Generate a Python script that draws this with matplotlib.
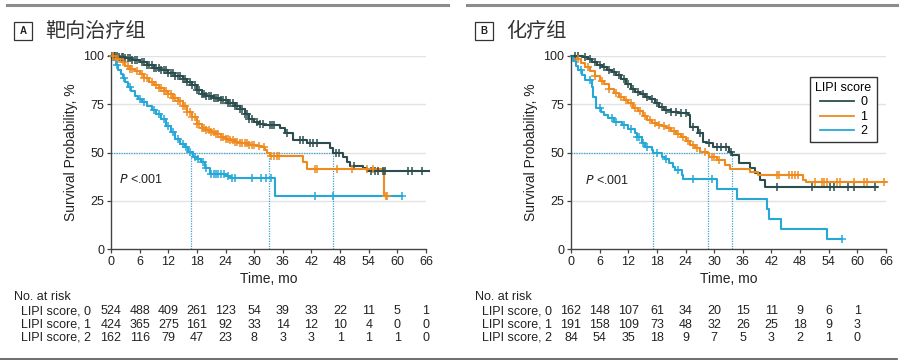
import matplotlib
matplotlib.use('Agg')
import numpy as np
import matplotlib.pyplot as plt
import matplotlib.transforms as mtransforms
from matplotlib import font_manager
from matplotlib.lines import Line2D
from matplotlib.patches import Rectangle

# fonts: narrow latin font for numbers/labels, CJK font for the titles
names = {f.name for f in font_manager.fontManager.ttflist}
if 'Liberation Sans Narrow' in names:
    latin = ['Liberation Sans Narrow', 'DejaVu Sans']
else:
    latin = ['Liberation Sans', 'DejaVu Sans']
plt.rcParams['font.family'] = latin
cjk = ['Noto Sans CJK SC', 'DejaVu Sans']

# ---------------------------------------------------------------
# DATA
# ---------------------------------------------------------------
titles = ['靶向治疗组', '化疗组']
panel_letters = ['A', 'B']
group_labels = ['0', '1', '2']
xticks = list(range(0, 67, 6))
yticks = [0, 25, 50, 75, 100]

# panel A, LIPI 0
a0_t = [0, 1.5, 3, 4.5, 6, 7.5, 9, 10.5, 12, 13.5, 15, 16, 17, 18, 19, 20, 21.5, 23, 24.5, 26, 27, 28, 29, 30, 31, 32,
        35.5, 36.4, 38.2, 41, 45.9, 46.6, 48.7, 49.4, 50, 52.8, 53.6]
a0_s = [100, 99.5, 99, 98, 97, 95.5, 94, 92.5, 91, 89.5, 88, 86.5, 85, 82.5, 80.5, 79.5, 78.5, 77, 75.5, 74, 72.5, 70, 67.5, 66, 65, 64.3,
        62.5, 60, 56.5, 55.2, 52.2, 49.7, 47.9, 45.3, 43.1, 42.2, 40.3]
a0_end = 66.6
a0_cens = [0.3, 0.6, 0.9, 1.2, 1.6, 2.2, 2.6, 3, 3.5, 4, 4.5, 5, 5.5, 6.5, 7, 7.5, 8, 8.5, 9, 9.5, 10, 10.5, 11, 11.5, 12,
           12.5, 13, 13.5, 14, 14.5, 15, 15.5, 16, 16.5, 17, 17.5, 18, 18.5, 19, 19.5, 20, 20.5, 21, 21.5, 22, 22.5, 23,
           23.5, 24, 24.5, 25, 25.5, 26, 26.5, 27, 27.5, 28, 28.5, 29, 29.5, 30.5, 31.2, 31.9, 33.3, 33.7, 34.1, 36.8,
           39.5, 40.2, 41.8, 42.4, 43.2, 47.2, 47.8, 51, 54.5, 55.3, 56, 57, 57.5, 62.3, 63, 65.2]

# panel A, LIPI 1
a1_t = [0, 1, 2, 3, 4, 5, 6, 7, 8, 9, 10, 11, 12, 13, 14, 15, 16, 17, 18, 19, 20, 21, 22, 23, 24, 25, 26, 27, 29, 30.5,
        31.5, 32.2, 32.7, 33.3, 40.3, 41, 57.2]
a1_s = [100, 98.5, 97, 95, 93.5, 92, 90.5, 88.5, 86.5, 85, 83.5, 82, 80.5, 78.5, 76.5, 74, 71, 68.5, 65, 63, 61.5, 60.5,
        59.5, 58.3, 57.3, 56.3, 55.5, 55, 54, 53.5, 53, 51.5, 50, 48.5, 45.3, 41.4, 27.4]
a1_end = 58.3
a1_cens = [0.5, 1, 1.5, 2.5, 3.5, 4, 4.5, 5.5, 6.5, 7, 7.5, 8.5, 9.5, 10, 10.5, 11, 11.5, 12, 12.5, 13, 13.5, 14, 14.5,
           15, 15.5, 16, 16.5, 17, 17.5, 18, 18.5, 19, 19.5, 20, 20.5, 21, 21.5, 22, 22.5, 23, 23.5, 24, 24.5, 25, 25.5,
           26, 26.5, 27, 27.5, 28, 28.5, 29, 29.5, 30, 31, 32, 33.6, 34.1, 34.7, 35.2, 42.7, 43.1, 47.3, 50.4, 53.6, 55,
           57.6, 57.9]

# panel A, LIPI 2
a2_t = [0, 0.5, 1, 1.5, 2, 2.5, 3, 3.6, 4.2, 5, 5.7, 6.5, 7.5, 8.5, 9.5, 10.5, 11.5, 12.5, 13.4, 14.5, 15.5, 16.2, 17.2,
        18, 18.9, 19.7, 20.7, 24.2, 25, 34.4]
a2_s = [100, 98, 95.5, 93, 90.5, 88.5, 86.5, 84, 82, 79.5, 77.5, 76, 74, 72, 70, 67.5, 64, 60.5, 57, 54.5, 53, 50.5, 48,
        46.5, 45, 42, 38.8, 37.8, 36.7, 27.6]
a2_end = 60.9
a2_cens = [1.2, 2.8, 4, 6, 7, 9, 10, 11, 12, 13, 14, 15, 15.8, 16.5, 17.5, 18.3, 19.2, 20, 21, 21.5, 22, 22.5, 23, 23.7,
           24.5, 25.3, 26, 29.6, 31.5, 32.5, 33.5, 42.7, 46.6, 60.9]

# panel B, LIPI 0
b0_t = [0, 2.5, 3.5, 4.5, 5.5, 6.5, 7.5, 8.5, 9.5, 10.5, 11.5, 12.5, 13.5, 14.5, 15.5, 16.5, 17.5, 18.5, 19.5, 21, 22.5,
        24.6, 24.9, 26.7, 27.7, 28.4, 29.8, 33.2, 33.7, 35.1, 37.5, 38.6, 39.6, 40.7]
b0_s = [100, 99.5, 98.5, 97, 95.5, 94.5, 93, 91.5, 90, 88, 85.5, 83, 81.5, 80.5, 79, 77.5, 75.5, 73.5, 72, 71, 70.4,
        69.5, 63.4, 60, 55.7, 54.8, 53.1, 50.5, 48.8, 44.8, 41.9, 39.3, 35.8, 32.4]
b0_end = 64.1
b0_cens = [0.8, 1.5, 3, 4, 5, 6, 7, 8, 9, 10, 11, 12, 13, 14, 15, 16, 17, 18, 19, 20, 21, 22, 23, 24, 25.5, 27, 29, 30.5,
           31.5, 32.5, 33.5, 43.1, 50.4, 54.3, 55, 58.1, 59.2, 63.7]

# panel B, LIPI 1
b1_t = [0, 1, 2, 3, 4, 5, 6, 7, 8, 9, 10, 11, 12, 13, 14, 15, 16, 17, 18, 19, 20, 21, 22, 23, 24, 25, 26, 27, 28.5, 29,
        30.5, 32.2, 33.3, 37.5, 39.2, 48.6, 49.3]
b1_s = [100, 98.5, 96.5, 94.5, 92, 89.5, 87, 85.5, 83, 81, 79, 77, 75.5, 73, 71.5, 69, 67, 65.5, 64.5, 63.8, 62.5, 61,
        59.5, 58.2, 56, 54, 52.5, 50.5, 49.7, 47.9, 46.2, 43.6, 41.4, 40.1, 38.4, 35.8, 34.8]
b1_end = 66.1
b1_cens = [1.5, 3.5, 5, 6.5, 8, 9.5, 10.5, 11.5, 12.5, 13.5, 14.5, 15.5, 16.5, 17.5, 18.5, 19.5, 20.5, 21.5, 22.5, 23.5,
           24.5, 25.5, 26.5, 28, 29.5, 30, 31, 43.1, 43.5, 45.6, 46.3, 47, 47.5, 51.2, 52.6, 53.1, 53.6, 55.7, 56.3,
           59.2, 61.3, 62, 65.5]

# panel B, LIPI 2
b2_t = [0, 0.5, 1, 1.5, 2.2, 3, 4.3, 4.7, 5.3, 6.3, 7, 7.8, 9, 10.6, 12, 13.4, 13.8, 14.8, 15.5, 16.9, 17.2, 19, 19.6,
        20.5, 21.4, 21.8, 23.2, 23.5, 30.5, 34.7, 41, 41.5, 44.1, 53.6]
b2_s = [100, 97.5, 95, 92.7, 90, 87.5, 84, 79, 73, 71, 69.5, 67.8, 66, 64.3, 62, 60, 58.2, 54.8, 53, 51.4, 50, 47.9,
        46.5, 44.5, 42.7, 41, 38.4, 36.2, 31, 26, 20.7, 15.7, 10.3, 5.3]
b2_end = 56.7
b2_cens = [2, 4, 6, 8.5, 9.5, 11, 12.5, 13.8, 14.2, 15, 16, 18, 20, 22.5, 25.5, 29.5, 56.7]

# median survival times (dotted guide lines)
med_a = [16.7, 33.0, 46.6]
med_b = [17.2, 28.8, 33.7]

# numbers at risk
risk_times_a = [0, 6, 12, 18, 24, 30, 36, 42, 48, 54, 60, 66]
risk_a0 = [524, 488, 409, 261, 123, 54, 39, 33, 22, 11, 5, 1]
risk_a1 = [424, 365, 275, 161, 92, 33, 14, 12, 10, 4, 0, 0]
risk_a2 = [162, 116, 79, 47, 23, 8, 3, 3, 1, 1, 1, 0]
risk_times_b = [0, 6, 12, 18, 24, 30, 36, 42, 48, 54, 60]
risk_b0 = [162, 148, 107, 61, 34, 20, 15, 11, 9, 6, 1]
risk_b1 = [191, 158, 109, 73, 48, 32, 26, 25, 18, 9, 3]
risk_b2 = [84, 54, 35, 18, 9, 7, 5, 3, 2, 1, 0]

p_text = '<.001'

# ---------------------------------------------------------------
colors = ['#2b4d4d', '#ef8a1e', '#25a8d8']
guide_color = '#3aa3d6'
W, H = 907, 363


def km_curve(ax, t, s, t_end, cens, color):
    tt = list(t) + [t_end]
    ss = list(s) + [s[-1]]
    ax.step(tt, ss, where='post', color=color, linewidth=1.5, zorder=3, clip_on=False)
    # censor ticks sit on the step at each censoring time
    idx = np.searchsorted(np.array(t), np.array(cens), side='right') - 1
    yc = np.array(s)[idx]
    ax.plot(cens, yc, linestyle='none', marker='+', markersize=5.5, markeredgewidth=1.1, color=color, zorder=4,
            clip_on=False)


def setup_axes(ax):
    ax.set_xlim(0, 66)
    ax.set_ylim(0, 100)
    ax.set_xticks(xticks)
    ax.set_yticks(yticks)
    for sp in ['top', 'right']:
        ax.spines[sp].set_visible(False)
    for sp in ['left', 'bottom']:
        ax.spines[sp].set_color('#444444')
        ax.spines[sp].set_linewidth(1.0)
    ax.tick_params(axis='both', direction='out', length=3, width=0.9, color='#444444', labelsize=9, pad=2,
                   labelcolor='#222222')
    for yv in yticks[1:]:
        ax.axhline(yv, color='#e2e2e2', linewidth=1.0, zorder=0)
    ax.set_xlabel('Time, mo', fontsize=10, labelpad=3, color='#222222')
    ax.set_ylabel('Survival Probability, %', fontsize=10, labelpad=4, color='#222222')


def median_guides(ax, meds):
    ax.plot([0, max(meds)], [50, 50], color=guide_color, linestyle=(0, (1, 1)), linewidth=0.9, zorder=1)
    for m in meds:
        ax.plot([m, m], [0, 50], color=guide_color, linestyle=(0, (1, 1)), linewidth=0.9, zorder=1)


def risk_table(fig, ax, times, rows, x_label_px):
    tr = mtransforms.blended_transform_factory(ax.transData, fig.transFigure)
    fig.text(x_label_px / W, 1 - 297 / H, 'No. at risk', fontsize=9, va='center', ha='left', color='#222222')
    row_y = [311, 324.5, 338]
    for i, r in enumerate(rows):
        fig.text((x_label_px + 7) / W, 1 - row_y[i] / H, 'LIPI score, ' + group_labels[i], fontsize=9, va='center',
                 ha='left', color='#222222')
        for tv, n in zip(times, r):
            ax.text(tv, 1 - row_y[i] / H, str(n), transform=tr, fontsize=9, ha='center', va='center',
                    color='#222222')


def panel_header(fig, letter, title, x_box_px):
    fig.add_artist(Rectangle((x_box_px / W, 1 - 39.5 / H), 18 / W, 17.5 / H, transform=fig.transFigure,
                             facecolor='white', edgecolor='#333333', linewidth=0.9))
    fig.text((x_box_px + 9) / W, 1 - 30.7 / H, letter, fontsize=7, weight='bold', ha='center', va='center',
             color='#222222')
    fig.text((x_box_px + 31) / W, 1 - 31 / H, title, fontsize=14.5, ha='left', va='center', color='#333333',
             family=cjk)


fig = plt.figure(figsize=(W / 100, H / 100), dpi=100)
fig.patch.set_facecolor('white')

ax_a = fig.add_axes([111 / W, 1 - 249.3 / H, 315 / W, 193.3 / H])
ax_b = fig.add_axes([571 / W, 1 - 249.3 / H, 315 / W, 193.3 / H])

# panel A
setup_axes(ax_a)
median_guides(ax_a, med_a)
km_curve(ax_a, a0_t, a0_s, a0_end, a0_cens, colors[0])
km_curve(ax_a, a1_t, a1_s, a1_end, a1_cens, colors[1])
km_curve(ax_a, a2_t, a2_s, a2_end, a2_cens, colors[2])
ax_a.text(1.7, 36.2, '$P$ ' + p_text, fontsize=9, ha='left', va='center', color='#222222')

# panel B
setup_axes(ax_b)
median_guides(ax_b, med_b)
km_curve(ax_b, b0_t, b0_s, b0_end, b0_cens, colors[0])
km_curve(ax_b, b1_t, b1_s, b1_end, b1_cens, colors[1])
km_curve(ax_b, b2_t, b2_s, b2_end, b2_cens, colors[2])
ax_b.text(2.9, 35.5, '$P$ ' + p_text, fontsize=9, ha='left', va='center', color='#222222')

handles = [Line2D([0], [0], color=c, linewidth=1.3) for c in colors]
leg = ax_b.legend(handles, group_labels, title='LIPI score', loc='upper right', bbox_to_anchor=(0.99, 0.924),
                  frameon=True, fancybox=False, framealpha=1, edgecolor='#333333', fontsize=9, title_fontsize=9,
                  handlelength=2.7, handletextpad=0.5, borderpad=0.4, labelspacing=0.2)
leg.get_frame().set_linewidth(1.0)

# headers
panel_header(fig, panel_letters[0], titles[0], 14)
panel_header(fig, panel_letters[1], titles[1], 475)

# risk tables
risk_table(fig, ax_a, risk_times_a, [risk_a0, risk_a1, risk_a2], 14)
risk_table(fig, ax_b, risk_times_b, [risk_b0, risk_b1, risk_b2], 475)

# rules at top and bottom
fig.add_artist(Line2D([7 / W, 448 / W], [1 - 5.3 / H] * 2, color='#8c8c8c', linewidth=2.2))
fig.add_artist(Line2D([467 / W, 897 / W], [1 - 5.3 / H] * 2, color='#8c8c8c', linewidth=2.2))
fig.add_artist(Line2D([0, 897 / W], [1 - 359.3 / H] * 2, color='#555555', linewidth=1.2))

fig.savefig('out.png', dpi=100, facecolor='white')
plt.close(fig)
